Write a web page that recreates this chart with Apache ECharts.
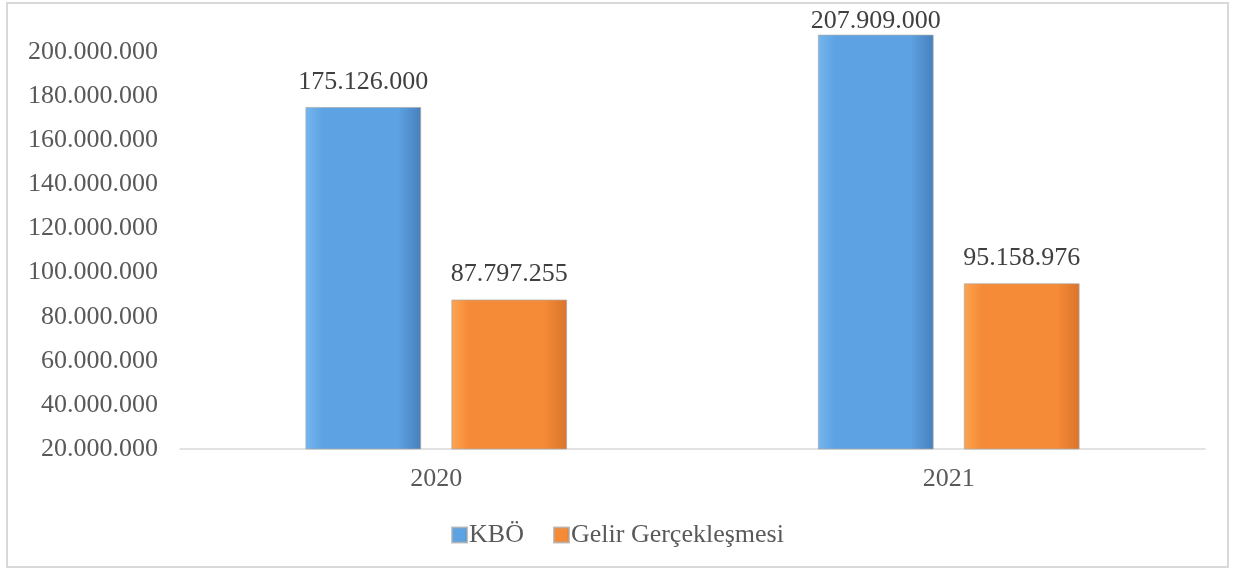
<!DOCTYPE html>
<html>
<head>
<meta charset="utf-8">
<script src="https://cdn.jsdelivr.net/npm/echarts@6/dist/echarts.min.js"></script>
<style>
  html, body { margin: 0; padding: 0; background: #fff; }
  #chart {
    position: absolute; left: 6px; top: 2px;
    width: 1223px; height: 566px;
    border: 2px solid #d9d9d9; box-sizing: border-box;
  }
</style>
</head>
<body>
<div id="chart"></div>
<script>
const years = ['2020', '2021']
const kboValues = [175126000, 207909000]
const gelirValues = [87797255, 95158976]
const seriesNames = ['KBÖ', 'Gelir Gerçekleşmesi']

const FONT = '"Liberation Serif", "Times New Roman", serif'
const Y_MAX = 210000000

// dotted thousands: 175126000 -> 175.126.000
function fmt(v) {
  return String(Math.round(v)).replace(/\B(?=(\d{3})+(?!\d))/g, '.')
}

function bevel(light, mid, dark) {
  return {
    type: 'linear', x: 0, y: 0, x2: 1, y2: 0,
    colorStops: [
      { offset: 0, color: light },
      { offset: 0.15, color: mid },
      { offset: 0.8, color: mid },
      { offset: 1, color: dark },
    ],
  }
}

// labels near the top of the plot get squeezed down onto the bar like in Excel
function withLabels(values) {
  return values.map(v => ({
    value: v,
    label: { distance: v > Y_MAX * 0.95 ? 0 : 12 },
  }))
}

const labelStyle = {
  show: true, position: 'top',
  fontFamily: FONT, fontSize: 26, color: '#404040',
  formatter: p => fmt(p.value),
}

const chart = echarts.init(document.getElementById('chart'))
chart.setOption({
  animation: false,
  textStyle: { fontFamily: FONT },
  grid: { left: 172, right: 22, top: 26, bottom: 117 },
  legend: {
    data: seriesNames,
    bottom: 13,
    left: 'center',
    icon: 'rect',
    itemWidth: 15,
    itemHeight: 15,
    itemGap: 29,
    textStyle: { fontFamily: FONT, fontSize: 26, color: '#595959', padding: [0, 0, 0, -3] },
  },
  xAxis: {
    type: 'category',
    data: years,
    axisLine: { lineStyle: { color: '#d9d9d9', width: 1.5 } },
    axisTick: { show: false },
    axisLabel: { fontFamily: FONT, fontSize: 26, color: '#595959', margin: 17 },
  },
  yAxis: {
    type: 'value',
    min: 20000000,
    max: Y_MAX,
    interval: 20000000,
    axisLine: { show: false },
    axisTick: { show: false },
    splitLine: { show: false },
    axisLabel: {
      fontFamily: FONT, fontSize: 26, color: '#595959', margin: 22,
      showMaxLabel: false,
      formatter: v => fmt(v),
    },
  },
  series: [
    {
      name: seriesNames[0],
      type: 'bar',
      data: withLabels(kboValues),
      barWidth: '22.6%',
      barGap: '26%',
      itemStyle: {
        color: bevel('#74b6ef', '#5da2e2', '#4780bb'),
        borderColor: 'rgba(170,170,170,0.7)',
        borderWidth: 1,
      },
      label: labelStyle,
    },
    {
      name: seriesNames[1],
      type: 'bar',
      data: withLabels(gelirValues),
      barWidth: '22.6%',
      itemStyle: {
        color: bevel('#fca552', '#f68b37', '#d9742a'),
        borderColor: 'rgba(170,170,170,0.7)',
        borderWidth: 1,
      },
      label: labelStyle,
    },
  ],
})
</script>
</body>
</html>
